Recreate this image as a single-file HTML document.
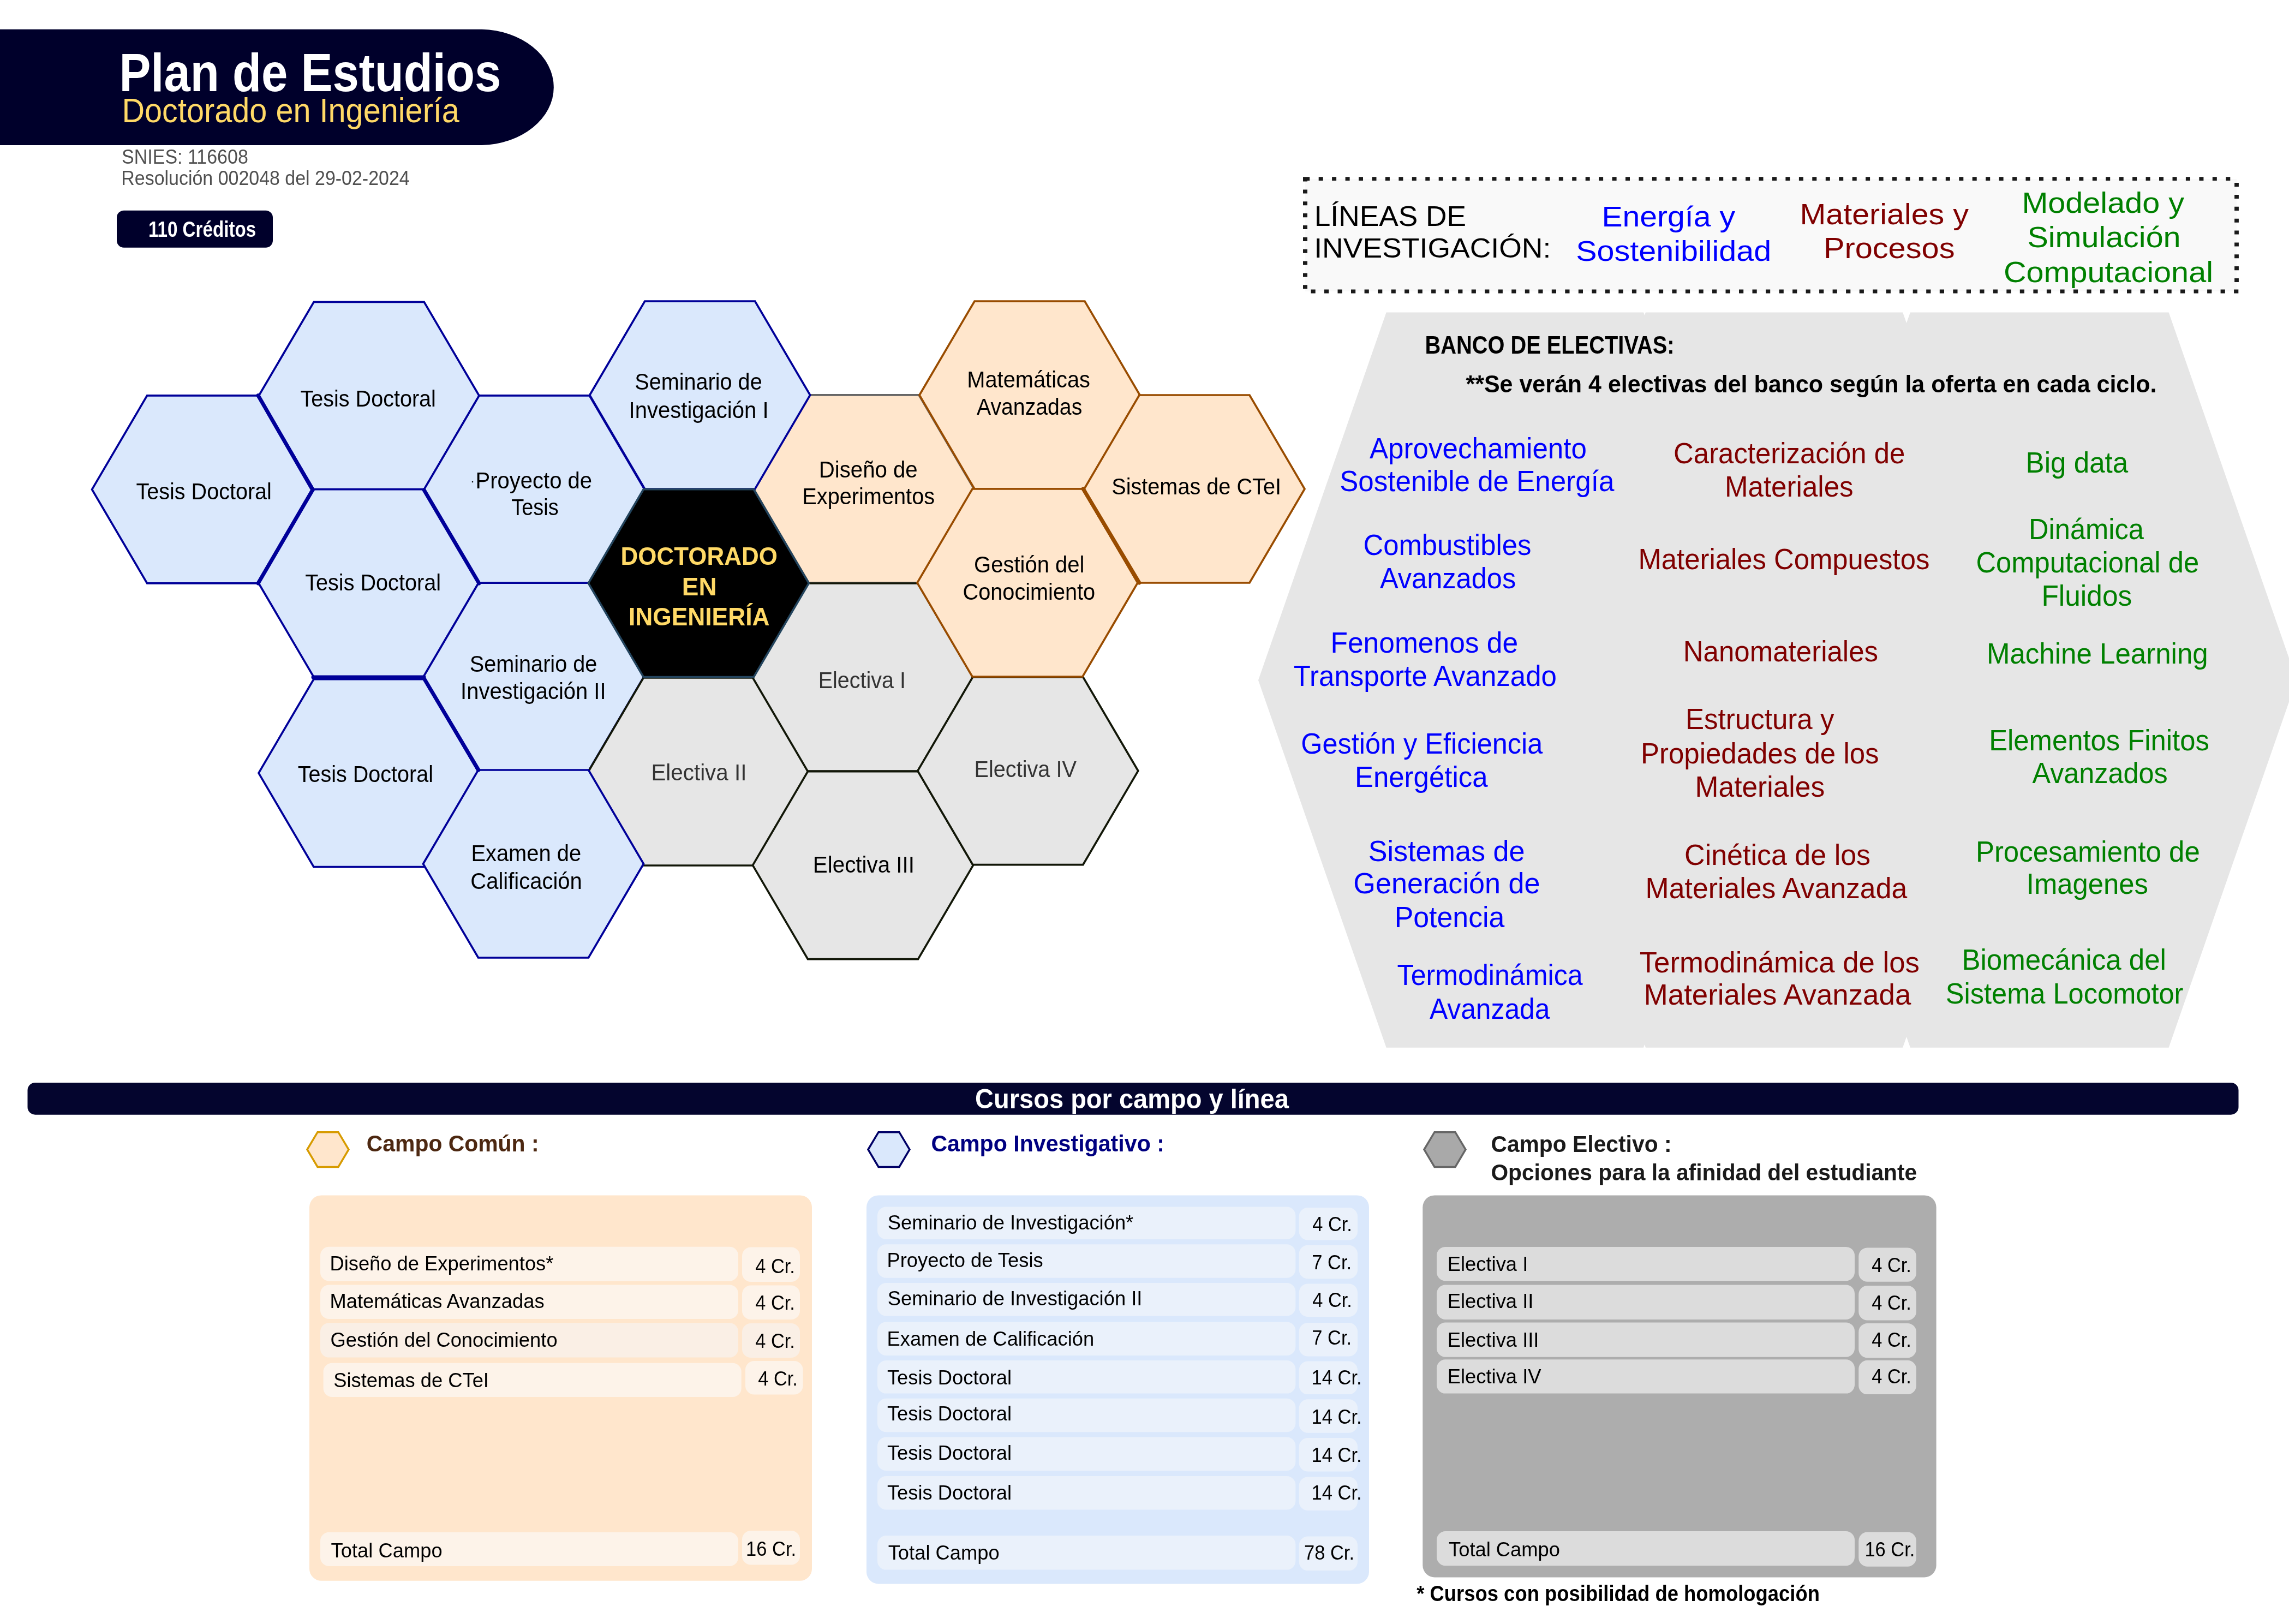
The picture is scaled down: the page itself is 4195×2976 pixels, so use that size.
<!DOCTYPE html>
<html><head><meta charset="utf-8"><title>Plan de Estudios</title>
<style>html,body{margin:0;padding:0;background:#fff;width:4195px;height:2976px;overflow:hidden}
svg{display:block;font-family:"Liberation Sans",sans-serif;will-change:transform}</style></head>
<body><svg width="4195" height="2976" viewBox="0 0 4195 2976">
<rect width="4195" height="2976" fill="#fff"/>
<path d="M0,53.7 H883 A136,106.2 0 0 1 883,266 H0 Z" fill="#00002b"/>
<text transform="translate(218.4 166.6) scale(0.8923 1)" font-size="97.38" font-weight="bold" fill="#fff">Plan de Estudios</text>
<text transform="translate(223.4 223.8) scale(0.9118 1)" font-size="63.23" fill="#ffd966">Doctorado en Ingeniería</text>
<text transform="translate(223.1 300.3) scale(0.9209 1)" font-size="36.92" fill="#505050">SNIES: 116608</text>
<text transform="translate(222.3 339.0) scale(0.8986 1)" font-size="37.79" fill="#505050">Resolución 002048 del 29-02-2024</text>
<rect x="214.0" y="385.7" width="286.0" height="68.0" rx="13.0" fill="#00002b"/>
<text transform="translate(271.9 434.0) scale(0.8300 1)" font-size="39.97" font-weight="bold" fill="#fff">110 Créditos</text>
<rect x="2392.0" y="328.0" width="1707.0" height="206.0" rx="0.0" fill="#f9f9f9"/>
<path fill="#1a1a1a" d="M2388.0 324.2h8.0v8.3h-8.0zM2392.2 324.2h8.0v6.8h-8.0zM2416.7 324.2h8.0v6.8h-8.0zM2441.1 324.2h8.0v6.8h-8.0zM2465.6 324.2h8.0v6.8h-8.0zM2490.0 324.2h8.0v6.8h-8.0zM2514.5 324.2h8.0v6.8h-8.0zM2538.9 324.2h8.0v6.8h-8.0zM2563.4 324.2h8.0v6.8h-8.0zM2587.8 324.2h8.0v6.8h-8.0zM2612.3 324.2h8.0v6.8h-8.0zM2636.7 324.2h8.0v6.8h-8.0zM2661.2 324.2h8.0v6.8h-8.0zM2685.6 324.2h8.0v6.8h-8.0zM2710.1 324.2h8.0v6.8h-8.0zM2734.5 324.2h8.0v6.8h-8.0zM2759.0 324.2h8.0v6.8h-8.0zM2783.4 324.2h8.0v6.8h-8.0zM2807.9 324.2h8.0v6.8h-8.0zM2832.3 324.2h8.0v6.8h-8.0zM2856.8 324.2h8.0v6.8h-8.0zM2881.2 324.2h8.0v6.8h-8.0zM2905.7 324.2h8.0v6.8h-8.0zM2930.1 324.2h8.0v6.8h-8.0zM2954.6 324.2h8.0v6.8h-8.0zM2979.0 324.2h8.0v6.8h-8.0zM3003.5 324.2h8.0v6.8h-8.0zM3027.9 324.2h8.0v6.8h-8.0zM3052.4 324.2h8.0v6.8h-8.0zM3076.8 324.2h8.0v6.8h-8.0zM3101.3 324.2h8.0v6.8h-8.0zM3125.7 324.2h8.0v6.8h-8.0zM3150.2 324.2h8.0v6.8h-8.0zM3174.6 324.2h8.0v6.8h-8.0zM3199.1 324.2h8.0v6.8h-8.0zM3223.5 324.2h8.0v6.8h-8.0zM3248.0 324.2h8.0v6.8h-8.0zM3272.4 324.2h8.0v6.8h-8.0zM3296.9 324.2h8.0v6.8h-8.0zM3321.3 324.2h8.0v6.8h-8.0zM3345.8 324.2h8.0v6.8h-8.0zM3370.2 324.2h8.0v6.8h-8.0zM3394.7 324.2h8.0v6.8h-8.0zM3419.1 324.2h8.0v6.8h-8.0zM3443.6 324.2h8.0v6.8h-8.0zM3468.0 324.2h8.0v6.8h-8.0zM3492.5 324.2h8.0v6.8h-8.0zM3516.9 324.2h8.0v6.8h-8.0zM3541.4 324.2h8.0v6.8h-8.0zM3565.8 324.2h8.0v6.8h-8.0zM3590.3 324.2h8.0v6.8h-8.0zM3614.7 324.2h8.0v6.8h-8.0zM3639.2 324.2h8.0v6.8h-8.0zM3663.6 324.2h8.0v6.8h-8.0zM3688.1 324.2h8.0v6.8h-8.0zM3712.5 324.2h8.0v6.8h-8.0zM3737.0 324.2h8.0v6.8h-8.0zM3761.4 324.2h8.0v6.8h-8.0zM3785.9 324.2h8.0v6.8h-8.0zM3810.3 324.2h8.0v6.8h-8.0zM3834.8 324.2h8.0v6.8h-8.0zM3859.2 324.2h8.0v6.8h-8.0zM3883.7 324.2h8.0v6.8h-8.0zM3908.1 324.2h8.0v6.8h-8.0zM3932.6 324.2h8.0v6.8h-8.0zM3957.0 324.2h8.0v6.8h-8.0zM3981.5 324.2h8.0v6.8h-8.0zM4005.9 324.2h8.0v6.8h-8.0zM4030.4 324.2h8.0v6.8h-8.0zM4054.8 324.2h8.0v6.8h-8.0zM4079.3 324.2h8.0v6.8h-8.0zM2402.5 530.4h8.2v7.1h-8.2zM2427.0 530.4h8.2v7.1h-8.2zM2451.5 530.4h8.2v7.1h-8.2zM2476.0 530.4h8.2v7.1h-8.2zM2500.6 530.4h8.2v7.1h-8.2zM2525.1 530.4h8.2v7.1h-8.2zM2549.6 530.4h8.2v7.1h-8.2zM2574.1 530.4h8.2v7.1h-8.2zM2598.6 530.4h8.2v7.1h-8.2zM2623.1 530.4h8.2v7.1h-8.2zM2647.7 530.4h8.2v7.1h-8.2zM2672.2 530.4h8.2v7.1h-8.2zM2696.7 530.4h8.2v7.1h-8.2zM2721.2 530.4h8.2v7.1h-8.2zM2745.7 530.4h8.2v7.1h-8.2zM2770.2 530.4h8.2v7.1h-8.2zM2794.8 530.4h8.2v7.1h-8.2zM2819.3 530.4h8.2v7.1h-8.2zM2843.8 530.4h8.2v7.1h-8.2zM2868.3 530.4h8.2v7.1h-8.2zM2892.8 530.4h8.2v7.1h-8.2zM2917.3 530.4h8.2v7.1h-8.2zM2941.9 530.4h8.2v7.1h-8.2zM2966.4 530.4h8.2v7.1h-8.2zM2990.9 530.4h8.2v7.1h-8.2zM3015.4 530.4h8.2v7.1h-8.2zM3039.9 530.4h8.2v7.1h-8.2zM3064.4 530.4h8.2v7.1h-8.2zM3088.9 530.4h8.2v7.1h-8.2zM3113.5 530.4h8.2v7.1h-8.2zM3138.0 530.4h8.2v7.1h-8.2zM3162.5 530.4h8.2v7.1h-8.2zM3187.0 530.4h8.2v7.1h-8.2zM3211.5 530.4h8.2v7.1h-8.2zM3236.0 530.4h8.2v7.1h-8.2zM3260.6 530.4h8.2v7.1h-8.2zM3285.1 530.4h8.2v7.1h-8.2zM3309.6 530.4h8.2v7.1h-8.2zM3334.1 530.4h8.2v7.1h-8.2zM3358.6 530.4h8.2v7.1h-8.2zM3383.1 530.4h8.2v7.1h-8.2zM3407.7 530.4h8.2v7.1h-8.2zM3432.2 530.4h8.2v7.1h-8.2zM3456.7 530.4h8.2v7.1h-8.2zM3481.2 530.4h8.2v7.1h-8.2zM3505.7 530.4h8.2v7.1h-8.2zM3530.2 530.4h8.2v7.1h-8.2zM3554.8 530.4h8.2v7.1h-8.2zM3579.3 530.4h8.2v7.1h-8.2zM3603.8 530.4h8.2v7.1h-8.2zM3628.3 530.4h8.2v7.1h-8.2zM3652.8 530.4h8.2v7.1h-8.2zM3677.3 530.4h8.2v7.1h-8.2zM3701.8 530.4h8.2v7.1h-8.2zM3726.4 530.4h8.2v7.1h-8.2zM3750.9 530.4h8.2v7.1h-8.2zM3775.4 530.4h8.2v7.1h-8.2zM3799.9 530.4h8.2v7.1h-8.2zM3824.4 530.4h8.2v7.1h-8.2zM3848.9 530.4h8.2v7.1h-8.2zM3873.5 530.4h8.2v7.1h-8.2zM3898.0 530.4h8.2v7.1h-8.2zM3922.5 530.4h8.2v7.1h-8.2zM3947.0 530.4h8.2v7.1h-8.2zM3971.5 530.4h8.2v7.1h-8.2zM3996.0 530.4h8.2v7.1h-8.2zM4020.6 530.4h8.2v7.1h-8.2zM4045.1 530.4h8.2v7.1h-8.2zM4069.6 530.4h8.2v7.1h-8.2zM4094.1 530.4h8.2v7.1h-8.2zM2388.0 347.4h8.0v7.1h-8.0zM2388.0 369.2h8.0v7.1h-8.0zM2388.0 391.1h8.0v7.1h-8.0zM2388.0 413.0h8.0v7.1h-8.0zM2388.0 434.8h8.0v7.1h-8.0zM2388.0 456.7h8.0v7.1h-8.0zM2388.0 478.5h8.0v7.1h-8.0zM2388.0 500.4h8.0v7.1h-8.0zM2388.0 522.2h8.0v7.1h-8.0zM4095.1 444.4h7.8v7.1h-7.8zM4095.1 422.5h7.8v7.1h-7.8zM4095.1 400.7h7.8v7.1h-7.8zM4095.1 378.8h7.8v7.1h-7.8zM4095.1 357.0h7.8v7.1h-7.8zM4095.1 335.1h7.8v7.1h-7.8zM4095.1 466.2h7.8v7.1h-7.8zM4095.1 488.1h7.8v7.1h-7.8zM4095.1 510.0h7.8v7.1h-7.8z"/>
<text transform="translate(2408.7 414.0) scale(1.0360 1)" font-size="51.45" fill="#000">LÍNEAS DE</text>
<text transform="translate(2408.2 472.2) scale(1.0646 1)" font-size="50.29" fill="#000">INVESTIGACIÓN:</text>
<text transform="translate(2935.4 414.8) scale(1.0921 1)" font-size="52.33" fill="#0000ff">Energía y</text>
<text transform="translate(2888.2 477.7) scale(1.0993 1)" font-size="52.33" fill="#0000ff">Sostenibilidad</text>
<text transform="translate(3298.4 410.9) scale(1.0681 1)" font-size="53.78" fill="#800000">Materiales y</text>
<text transform="translate(3341.9 473.0) scale(1.0737 1)" font-size="53.78" fill="#800000">Procesos</text>
<text transform="translate(3705.4 390.4) scale(1.0704 1)" font-size="53.78" fill="#008000">Modelado y</text>
<text transform="translate(3715.4 453.0) scale(1.0692 1)" font-size="53.78" fill="#008000">Simulación</text>
<text transform="translate(3671.9 517.0) scale(1.0709 1)" font-size="53.78" fill="#008000">Computacional</text>
<polygon points="1381.0,895.8 1482.0,723.8 1684.0,723.8 1785.0,895.8 1684.0,1067.8 1482.0,1067.8" fill="#ffe6cc" stroke="#666666" stroke-width="3.7" stroke-linejoin="miter"/>
<polygon points="168.6,896.9 269.6,724.9 471.6,724.9 572.6,896.9 471.6,1068.9 269.6,1068.9" fill="#dae8fc" stroke="#000099" stroke-width="3.7" stroke-linejoin="miter"/>
<polygon points="474.2,725.3 575.2,553.3 777.2,553.3 878.2,725.3 777.2,897.3 575.2,897.3" fill="#dae8fc" stroke="#000099" stroke-width="3.7" stroke-linejoin="miter"/>
<polygon points="474.0,1068.7 575.0,896.7 777.0,896.7 878.0,1068.7 777.0,1240.7 575.0,1240.7" fill="#dae8fc" stroke="#000099" stroke-width="3.7" stroke-linejoin="miter"/>
<polygon points="474.0,1416.6 575.0,1244.6 777.0,1244.6 878.0,1416.6 777.0,1588.6 575.0,1588.6" fill="#dae8fc" stroke="#000099" stroke-width="3.7" stroke-linejoin="miter"/>
<polygon points="777.2,896.9 878.2,724.9 1080.2,724.9 1181.2,896.9 1080.2,1068.9 878.2,1068.9" fill="#dae8fc" stroke="#000099" stroke-width="3.7" stroke-linejoin="miter"/>
<polygon points="776.0,1240.2 877.0,1068.2 1079.0,1068.2 1180.0,1240.2 1079.0,1412.2 877.0,1412.2" fill="#dae8fc" stroke="#000099" stroke-width="3.7" stroke-linejoin="miter"/>
<polygon points="1080.7,724.0 1181.7,552.0 1383.7,552.0 1484.7,724.0 1383.7,896.0 1181.7,896.0" fill="#dae8fc" stroke="#000099" stroke-width="3.7" stroke-linejoin="miter"/>
<polygon points="1078.2,1414.0 1179.2,1242.0 1381.2,1242.0 1482.2,1414.0 1381.2,1586.0 1179.2,1586.0" fill="#e6e6e6" stroke="#121708" stroke-width="3.7" stroke-linejoin="miter"/>
<polygon points="1379.0,1241.0 1480.0,1069.0 1682.0,1069.0 1783.0,1241.0 1682.0,1413.0 1480.0,1413.0" fill="#e6e6e6" stroke="#121708" stroke-width="3.7" stroke-linejoin="miter"/>
<polygon points="1379.5,1585.6 1480.5,1413.6 1682.5,1413.6 1783.5,1585.6 1682.5,1757.6 1480.5,1757.6" fill="#e6e6e6" stroke="#121708" stroke-width="3.7" stroke-linejoin="miter"/>
<polygon points="1681.8,1412.6 1782.8,1240.6 1984.8,1240.6 2085.8,1412.6 1984.8,1584.6 1782.8,1584.6" fill="#e6e6e6" stroke="#121708" stroke-width="3.7" stroke-linejoin="miter"/>
<polygon points="775.5,1583.0 876.5,1411.0 1078.5,1411.0 1179.5,1583.0 1078.5,1755.0 876.5,1755.0" fill="#dae8fc" stroke="#000099" stroke-width="3.7" stroke-linejoin="miter"/>
<polygon points="1685.0,724.0 1786.0,552.0 1988.0,552.0 2089.0,724.0 1988.0,896.0 1786.0,896.0" fill="#ffe6cc" stroke="#994c00" stroke-width="3.7" stroke-linejoin="miter"/>
<polygon points="1681.0,1068.0 1782.0,896.0 1984.0,896.0 2085.0,1068.0 1984.0,1240.0 1782.0,1240.0" fill="#ffe6cc" stroke="#994c00" stroke-width="3.7" stroke-linejoin="miter"/>
<polygon points="1987.0,896.0 2088.0,724.0 2290.0,724.0 2391.0,896.0 2290.0,1068.0 2088.0,1068.0" fill="#ffe6cc" stroke="#994c00" stroke-width="3.7" stroke-linejoin="miter"/>
<polygon points="1078.3,1068.7 1179.3,896.7 1381.3,896.7 1482.3,1068.7 1381.3,1240.7 1179.3,1240.7" fill="#000000" stroke="#23445d" stroke-width="3.7" stroke-linejoin="miter"/>
<line x1="473.0" y1="724.6" x2="573.0" y2="897.7" stroke="#000099" stroke-width="7" stroke-linecap="round"/>
<line x1="573.0" y1="897.7" x2="473.0" y2="1069.0" stroke="#000099" stroke-width="7" stroke-linecap="round"/>
<line x1="777.0" y1="897.7" x2="878.0" y2="1069.0" stroke="#000099" stroke-width="7" stroke-linecap="round"/>
<line x1="574.0" y1="1241.0" x2="777.0" y2="1241.0" stroke="#000099" stroke-width="7" stroke-linecap="round"/>
<line x1="777.0" y1="1243.0" x2="877.0" y2="1411.0" stroke="#000099" stroke-width="7" stroke-linecap="round"/>
<line x1="1985.0" y1="895.7" x2="2088.0" y2="1068.0" stroke="#994c00" stroke-width="7" stroke-linecap="round"/>
<text transform="translate(249.5 914.6) scale(0.9451 1)" font-size="41.86" fill="#000">Tesis Doctoral</text>
<text transform="translate(550.5 745.3) scale(0.9451 1)" font-size="41.86" fill="#000">Tesis Doctoral</text>
<text transform="translate(559.2 1081.8) scale(0.9467 1)" font-size="41.86" fill="#000">Tesis Doctoral</text>
<text transform="translate(545.8 1433.3) scale(0.9444 1)" font-size="41.86" fill="#000">Tesis Doctoral</text>
<text transform="translate(871.5 895.3) scale(0.9560 1)" font-size="41.86" fill="#000">Proyecto de</text>
<text transform="translate(937.2 944.3) scale(0.9061 1)" font-size="41.86" fill="#000">Tesis</text>
<text transform="translate(1163.2 714.0) scale(0.9469 1)" font-size="41.86" fill="#000">Seminario de</text>
<text transform="translate(1152.6 766.0) scale(0.9567 1)" font-size="41.86" fill="#000">Investigación I</text>
<text transform="translate(1500.8 875.0) scale(0.9599 1)" font-size="41.86" fill="#000">Diseño de</text>
<text transform="translate(1470.3 924.0) scale(0.9488 1)" font-size="41.86" fill="#000">Experimentos</text>
<text transform="translate(1772.3 710.0) scale(0.9513 1)" font-size="41.86" fill="#000">Matemáticas</text>
<text transform="translate(1790.0 760.0) scale(0.9370 1)" font-size="41.86" fill="#000">Avanzadas</text>
<text transform="translate(2037.2 905.7) scale(0.9478 1)" font-size="41.86" fill="#000">Sistemas de CTeI</text>
<text transform="translate(1785.0 1049.0) scale(0.9565 1)" font-size="41.86" fill="#000">Gestión del</text>
<text transform="translate(1764.6 1099.0) scale(0.9476 1)" font-size="41.86" fill="#000">Conocimiento</text>
<text transform="translate(860.8 1231.1) scale(0.9469 1)" font-size="41.86" fill="#000">Seminario de</text>
<text transform="translate(844.1 1281.4) scale(0.9545 1)" font-size="41.86" fill="#000">Investigación II</text>
<text transform="translate(863.4 1578.0) scale(0.9527 1)" font-size="41.86" fill="#000">Examen de</text>
<text transform="translate(862.3 1628.8) scale(0.9556 1)" font-size="41.86" fill="#000">Calificación</text>
<text transform="translate(1499.7 1260.8) scale(0.9433 1)" font-size="41.86" fill="#333333">Electiva I</text>
<text transform="translate(1193.4 1429.7) scale(0.9647 1)" font-size="41.86" fill="#333333">Electiva II</text>
<text transform="translate(1489.8 1599.3) scale(0.9647 1)" font-size="41.86" fill="#000">Electiva III</text>
<text transform="translate(1785.5 1424.0) scale(0.9478 1)" font-size="41.86" fill="#333333">Electiva IV</text>
<circle cx="866" cy="883" r="1.3" fill="#000"/>
<text transform="translate(1137.4 1035.0) scale(0.9462 1)" font-size="46.51" font-weight="bold" fill="#ffd966">DOCTORADO</text>
<text transform="translate(1249.8 1090.9) scale(0.9865 1)" font-size="46.51" font-weight="bold" fill="#ffd966">EN</text>
<text transform="translate(1151.9 1146.0) scale(0.9532 1)" font-size="46.51" font-weight="bold" fill="#ffd966">INGENIERÍA</text>
<polygon points="2540.6,572.4 3974.6,572.4 4209.0,1246.0 3974.6,1919.8 2540.6,1919.8 2306.0,1246.5" fill="#e6e6e6" stroke="none" stroke-width="0"/>
<polygon points="3012.0,572.0 3016.0,572.0 3014.0,578.0" fill="#fff" stroke="none" stroke-width="0"/>
<polygon points="3487.0,572.0 3501.0,572.0 3494.0,592.0" fill="#fff" stroke="none" stroke-width="0"/>
<polygon points="3012.0,1920.0 3016.0,1920.0 3014.0,1914.0" fill="#fff" stroke="none" stroke-width="0"/>
<polygon points="3487.0,1920.0 3501.0,1920.0 3494.0,1900.0" fill="#fff" stroke="none" stroke-width="0"/>
<text transform="translate(2611.4 647.7) scale(0.8564 1)" font-size="46.51" font-weight="bold" fill="#000">BANCO DE ELECTIVAS:</text>
<text transform="translate(2686.5 719.3) scale(0.9859 1)" font-size="43.60" font-weight="bold" fill="#000">**Se verán 4 electivas del banco según la oferta en cada ciclo.</text>
<text transform="translate(2510.0 840.0) scale(0.9641 1)" font-size="53.05" fill="#0000ff">Aprovechamiento</text>
<text transform="translate(2455.2 900.0) scale(0.9639 1)" font-size="53.05" fill="#0000ff">Sostenible de Energía</text>
<text transform="translate(2498.5 1016.5) scale(0.9582 1)" font-size="53.05" fill="#0000ff">Combustibles</text>
<text transform="translate(2529.0 1077.8) scale(0.9534 1)" font-size="53.05" fill="#0000ff">Avanzados</text>
<text transform="translate(2438.5 1195.8) scale(0.9713 1)" font-size="53.05" fill="#0000ff">Fenomenos de</text>
<text transform="translate(2370.8 1257.0) scale(0.9619 1)" font-size="53.05" fill="#0000ff">Transporte Avanzado</text>
<text transform="translate(2384.2 1381.2) scale(0.9513 1)" font-size="53.05" fill="#0000ff">Gestión y Eficiencia</text>
<text transform="translate(2482.9 1442.4) scale(0.9612 1)" font-size="53.05" fill="#0000ff">Energética</text>
<text transform="translate(2507.7 1578.0) scale(0.9830 1)" font-size="53.05" fill="#0000ff">Sistemas de</text>
<text transform="translate(2480.3 1637.4) scale(0.9836 1)" font-size="53.05" fill="#0000ff">Generación de</text>
<text transform="translate(2555.7 1698.6) scale(0.9770 1)" font-size="53.05" fill="#0000ff">Potencia</text>
<text transform="translate(2560.6 1805.3) scale(0.9455 1)" font-size="53.05" fill="#0000ff">Termodinámica</text>
<text transform="translate(2620.0 1866.5) scale(0.9382 1)" font-size="53.05" fill="#0000ff">Avanzada</text>
<text transform="translate(3067.1 848.7) scale(0.9595 1)" font-size="53.05" fill="#800000">Caracterización de</text>
<text transform="translate(3160.9 909.9) scale(0.9635 1)" font-size="53.05" fill="#800000">Materiales</text>
<text transform="translate(3002.5 1042.8) scale(0.9582 1)" font-size="53.05" fill="#800000">Materiales Compuestos</text>
<text transform="translate(3084.7 1211.5) scale(0.9620 1)" font-size="53.05" fill="#800000">Nanomateriales</text>
<text transform="translate(3088.9 1335.7) scale(0.9634 1)" font-size="53.05" fill="#800000">Estructura y</text>
<text transform="translate(3006.9 1398.7) scale(0.9617 1)" font-size="53.05" fill="#800000">Propiedades de los</text>
<text transform="translate(3106.6 1459.9) scale(0.9711 1)" font-size="53.05" fill="#800000">Materiales</text>
<text transform="translate(3087.1 1585.0) scale(0.9802 1)" font-size="53.05" fill="#800000">Cinética de los</text>
<text transform="translate(3015.6 1646.0) scale(0.9760 1)" font-size="53.05" fill="#800000">Materiales Avanzada</text>
<text transform="translate(3004.7 1781.6) scale(0.9950 1)" font-size="53.05" fill="#800000">Termodinámica de los</text>
<text transform="translate(3012.8 1841.0) scale(0.9959 1)" font-size="53.05" fill="#800000">Materiales Avanzada</text>
<text transform="translate(3712.6 866.2) scale(0.9640 1)" font-size="53.05" fill="#008000">Big data</text>
<text transform="translate(3718.0 987.7) scale(0.9540 1)" font-size="53.05" fill="#008000">Dinámica</text>
<text transform="translate(3621.5 1048.9) scale(0.9558 1)" font-size="53.05" fill="#008000">Computacional de</text>
<text transform="translate(3741.4 1110.0) scale(0.9697 1)" font-size="53.05" fill="#008000">Fluidos</text>
<text transform="translate(3640.9 1216.0) scale(0.9626 1)" font-size="53.05" fill="#008000">Machine Learning</text>
<text transform="translate(3645.2 1375.0) scale(0.9576 1)" font-size="53.05" fill="#008000">Elementos Finitos</text>
<text transform="translate(3724.5 1434.5) scale(0.9492 1)" font-size="53.05" fill="#008000">Avanzados</text>
<text transform="translate(3620.9 1578.8) scale(0.9610 1)" font-size="53.05" fill="#008000">Procesamiento de</text>
<text transform="translate(3713.8 1638.0) scale(0.9580 1)" font-size="53.05" fill="#008000">Imagenes</text>
<text transform="translate(3595.4 1777.3) scale(0.9623 1)" font-size="53.05" fill="#008000">Biomecánica del</text>
<text transform="translate(3565.7 1838.5) scale(0.9536 1)" font-size="53.05" fill="#008000">Sistema Locomotor</text>
<rect x="50.5" y="1984.0" width="4052.0" height="58.7" rx="14.0" fill="#04052e"/>
<text transform="translate(1787.1 2030.7) scale(0.9245 1)" font-size="50.87" font-weight="bold" fill="#fff">Cursos por campo y línea</text>
<polygon points="563.0,2106.5 582.0,2074.7 620.0,2074.7 639.0,2106.5 620.0,2138.4 582.0,2138.4" fill="#ffe6cc" stroke="#d79b00" stroke-width="3.5"/>
<polygon points="1591.0,2106.5 1610.0,2074.7 1648.0,2074.7 1667.0,2106.5 1648.0,2138.4 1610.0,2138.4" fill="#dae8fc" stroke="#000066" stroke-width="3.5"/>
<polygon points="2610.0,2106.5 2629.0,2074.7 2667.0,2074.7 2686.0,2106.5 2667.0,2138.4 2629.0,2138.4" fill="#a9a9a9" stroke="#666666" stroke-width="3.5"/>
<text transform="translate(671.8 2109.5) scale(0.9538 1)" font-size="42.88" font-weight="bold" fill="#4d2811">Campo Común :</text>
<text transform="translate(1706.4 2109.5) scale(0.9597 1)" font-size="42.88" font-weight="bold" fill="#000080">Campo Investigativo :</text>
<text transform="translate(2732.4 2110.5) scale(0.9519 1)" font-size="42.88" font-weight="bold" fill="#1a1a1a">Campo Electivo :</text>
<text transform="translate(2732.4 2162.8) scale(0.9500 1)" font-size="42.88" font-weight="bold" fill="#1a1a1a">Opciones para la afinidad del estudiante</text>
<rect x="567.0" y="2190.4" width="921.0" height="706.4" rx="22.0" fill="#ffe6cc"/>
<rect x="1588.0" y="2190.4" width="921.0" height="712.0" rx="22.0" fill="#dae8fc"/>
<rect x="2607.3" y="2190.4" width="941.3" height="700.0" rx="22.0" fill="#adadad"/>
<rect x="587.0" y="2284.7" width="766.0" height="62.8" rx="16.0" fill="#fdf3e9"/>
<rect x="1360.0" y="2285.6" width="106.0" height="63.4" rx="16.0" fill="#fdf3e9"/>
<text transform="translate(604.4 2328.4) scale(0.9620 1)" font-size="37.79" fill="#000">Diseño de Experimentos*</text>
<text transform="translate(1384.2 2332.6) scale(0.9103 1)" font-size="37.79" fill="#000">4 Cr.</text>
<rect x="587.0" y="2354.6" width="766.0" height="62.4" rx="16.0" fill="#fdf3e9"/>
<rect x="1360.0" y="2355.5" width="106.0" height="62.5" rx="16.0" fill="#fdf3e9"/>
<text transform="translate(604.4 2396.8) scale(0.9620 1)" font-size="37.79" fill="#000">Matemáticas Avanzadas</text>
<text transform="translate(1384.2 2399.5) scale(0.9103 1)" font-size="37.79" fill="#000">4 Cr.</text>
<rect x="587.0" y="2424.3" width="766.0" height="63.3" rx="16.0" fill="#faefe5"/>
<rect x="1360.0" y="2425.0" width="106.0" height="63.0" rx="16.0" fill="#faefe5"/>
<text transform="translate(605.5 2468.3) scale(0.9620 1)" font-size="37.79" fill="#000">Gestión del Conocimiento</text>
<text transform="translate(1384.2 2470.0) scale(0.9103 1)" font-size="37.79" fill="#000">4 Cr.</text>
<rect x="592.6" y="2497.7" width="766.1" height="62.3" rx="16.0" fill="#fdf3e9"/>
<rect x="1366.0" y="2494.0" width="105.5" height="61.5" rx="16.0" fill="#fdf3e9"/>
<text transform="translate(611.2 2541.7) scale(0.9620 1)" font-size="37.79" fill="#000">Sistemas de CTeI</text>
<text transform="translate(1389.2 2539.0) scale(0.9103 1)" font-size="37.79" fill="#000">4 Cr.</text>
<rect x="587.0" y="2807.8" width="766.0" height="62.2" rx="16.0" fill="#fdf3e9"/>
<rect x="1360.0" y="2805.0" width="106.0" height="62.4" rx="16.0" fill="#fdf3e9"/>
<text transform="translate(606.6 2853.6) scale(0.9620 1)" font-size="37.79" fill="#000">Total Campo</text>
<text transform="translate(1367.1 2850.9) scale(0.9125 1)" font-size="37.79" fill="#000">16 Cr.</text>
<rect x="1608.0" y="2211.5" width="766.3" height="59.5" rx="16.0" fill="#eaf1fb"/>
<rect x="2380.7" y="2213.0" width="107.3" height="59.5" rx="16.0" fill="#eaf1fb"/>
<text transform="translate(1626.8 2252.7) scale(0.9620 1)" font-size="37.79" fill="#000">Seminario de Investigación*</text>
<text transform="translate(2405.2 2255.5) scale(0.9103 1)" font-size="37.79" fill="#000">4 Cr.</text>
<rect x="1608.0" y="2280.3" width="766.3" height="61.4" rx="16.0" fill="#eaf1fb"/>
<rect x="2380.7" y="2281.8" width="107.3" height="61.4" rx="16.0" fill="#eaf1fb"/>
<text transform="translate(1625.5 2321.5) scale(0.9620 1)" font-size="37.79" fill="#000">Proyecto de Tesis</text>
<text transform="translate(2404.3 2326.0) scale(0.9122 1)" font-size="37.79" fill="#000">7 Cr.</text>
<rect x="1608.0" y="2351.0" width="766.3" height="60.5" rx="16.0" fill="#eaf1fb"/>
<rect x="2380.7" y="2352.5" width="107.3" height="60.5" rx="16.0" fill="#eaf1fb"/>
<text transform="translate(1626.8 2392.2) scale(0.9620 1)" font-size="37.79" fill="#000">Seminario de Investigación II</text>
<text transform="translate(2405.2 2395.0) scale(0.9103 1)" font-size="37.79" fill="#000">4 Cr.</text>
<rect x="1608.0" y="2422.5" width="766.3" height="61.5" rx="16.0" fill="#eaf1fb"/>
<rect x="2380.7" y="2424.0" width="107.3" height="61.5" rx="16.0" fill="#eaf1fb"/>
<text transform="translate(1625.5 2465.6) scale(0.9620 1)" font-size="37.79" fill="#000">Examen de Calificación</text>
<text transform="translate(2404.3 2463.7) scale(0.9122 1)" font-size="37.79" fill="#000">7 Cr.</text>
<rect x="1608.0" y="2493.0" width="766.3" height="60.6" rx="16.0" fill="#eaf1fb"/>
<rect x="2380.7" y="2494.5" width="107.3" height="60.6" rx="16.0" fill="#eaf1fb"/>
<text transform="translate(1625.9 2537.1) scale(0.9620 1)" font-size="37.79" fill="#000">Tesis Doctoral</text>
<text transform="translate(2403.4 2537.0) scale(0.9157 1)" font-size="37.79" fill="#000">14 Cr.</text>
<rect x="1608.0" y="2562.8" width="766.3" height="61.5" rx="16.0" fill="#eaf1fb"/>
<rect x="2380.7" y="2564.3" width="107.3" height="61.5" rx="16.0" fill="#eaf1fb"/>
<text transform="translate(1625.9 2603.2) scale(0.9620 1)" font-size="37.79" fill="#000">Tesis Doctoral</text>
<text transform="translate(2403.4 2608.7) scale(0.9157 1)" font-size="37.79" fill="#000">14 Cr.</text>
<rect x="1608.0" y="2633.5" width="766.3" height="61.5" rx="16.0" fill="#eaf1fb"/>
<rect x="2380.7" y="2635.0" width="107.3" height="61.5" rx="16.0" fill="#eaf1fb"/>
<text transform="translate(1625.9 2674.7) scale(0.9620 1)" font-size="37.79" fill="#000">Tesis Doctoral</text>
<text transform="translate(2403.4 2679.3) scale(0.9157 1)" font-size="37.79" fill="#000">14 Cr.</text>
<rect x="1608.0" y="2705.0" width="766.3" height="61.5" rx="16.0" fill="#eaf1fb"/>
<rect x="2380.7" y="2706.5" width="107.3" height="61.5" rx="16.0" fill="#eaf1fb"/>
<text transform="translate(1625.9 2748.1) scale(0.9620 1)" font-size="37.79" fill="#000">Tesis Doctoral</text>
<text transform="translate(2403.4 2748.0) scale(0.9157 1)" font-size="37.79" fill="#000">14 Cr.</text>
<rect x="1608.0" y="2814.0" width="766.3" height="62.6" rx="16.0" fill="#eaf1fb"/>
<rect x="2380.7" y="2815.5" width="107.3" height="62.6" rx="16.0" fill="#eaf1fb"/>
<text transform="translate(1627.7 2858.2) scale(0.9620 1)" font-size="37.79" fill="#000">Total Campo</text>
<text transform="translate(2390.0 2858.2) scale(0.9129 1)" font-size="37.79" fill="#000">78 Cr.</text>
<rect x="2633.0" y="2284.9" width="766.0" height="62.3" rx="16.0" fill="#dcdcdc"/>
<rect x="3406.3" y="2286.4" width="105.6" height="62.3" rx="16.0" fill="#dcdcdc"/>
<text transform="translate(2652.8 2328.9) scale(0.9620 1)" font-size="37.79" fill="#000">Electiva I</text>
<text transform="translate(3430.2 2330.7) scale(0.9103 1)" font-size="37.79" fill="#000">4 Cr.</text>
<rect x="2633.0" y="2354.6" width="766.0" height="63.3" rx="16.0" fill="#dcdcdc"/>
<rect x="3406.3" y="2356.1" width="105.6" height="63.3" rx="16.0" fill="#dcdcdc"/>
<text transform="translate(2652.8 2396.8) scale(0.9620 1)" font-size="37.79" fill="#000">Electiva II</text>
<text transform="translate(3430.2 2399.5) scale(0.9103 1)" font-size="37.79" fill="#000">4 Cr.</text>
<rect x="2633.0" y="2423.4" width="766.0" height="63.3" rx="16.0" fill="#dcdcdc"/>
<rect x="3406.3" y="2424.9" width="105.6" height="63.3" rx="16.0" fill="#dcdcdc"/>
<text transform="translate(2652.8 2468.3) scale(0.9620 1)" font-size="37.79" fill="#000">Electiva III</text>
<text transform="translate(3430.2 2468.3) scale(0.9103 1)" font-size="37.79" fill="#000">4 Cr.</text>
<rect x="2633.0" y="2491.3" width="766.0" height="62.3" rx="16.0" fill="#dcdcdc"/>
<rect x="3406.3" y="2492.8" width="105.6" height="62.3" rx="16.0" fill="#dcdcdc"/>
<text transform="translate(2652.8 2535.3) scale(0.9620 1)" font-size="37.79" fill="#000">Electiva IV</text>
<text transform="translate(3430.2 2535.3) scale(0.9103 1)" font-size="37.79" fill="#000">4 Cr.</text>
<rect x="2633.0" y="2806.0" width="766.0" height="63.2" rx="16.0" fill="#dcdcdc"/>
<rect x="3406.3" y="2807.5" width="105.6" height="63.2" rx="16.0" fill="#dcdcdc"/>
<text transform="translate(2655.0 2851.8) scale(0.9620 1)" font-size="37.79" fill="#000">Total Campo</text>
<text transform="translate(3417.4 2851.8) scale(0.9125 1)" font-size="37.79" fill="#000">16 Cr.</text>
<text transform="translate(2596.2 2934.4) scale(0.8796 1)" font-size="41.42" font-weight="bold" fill="#000">* Cursos con posibilidad de homologación</text>
</svg></body></html>
